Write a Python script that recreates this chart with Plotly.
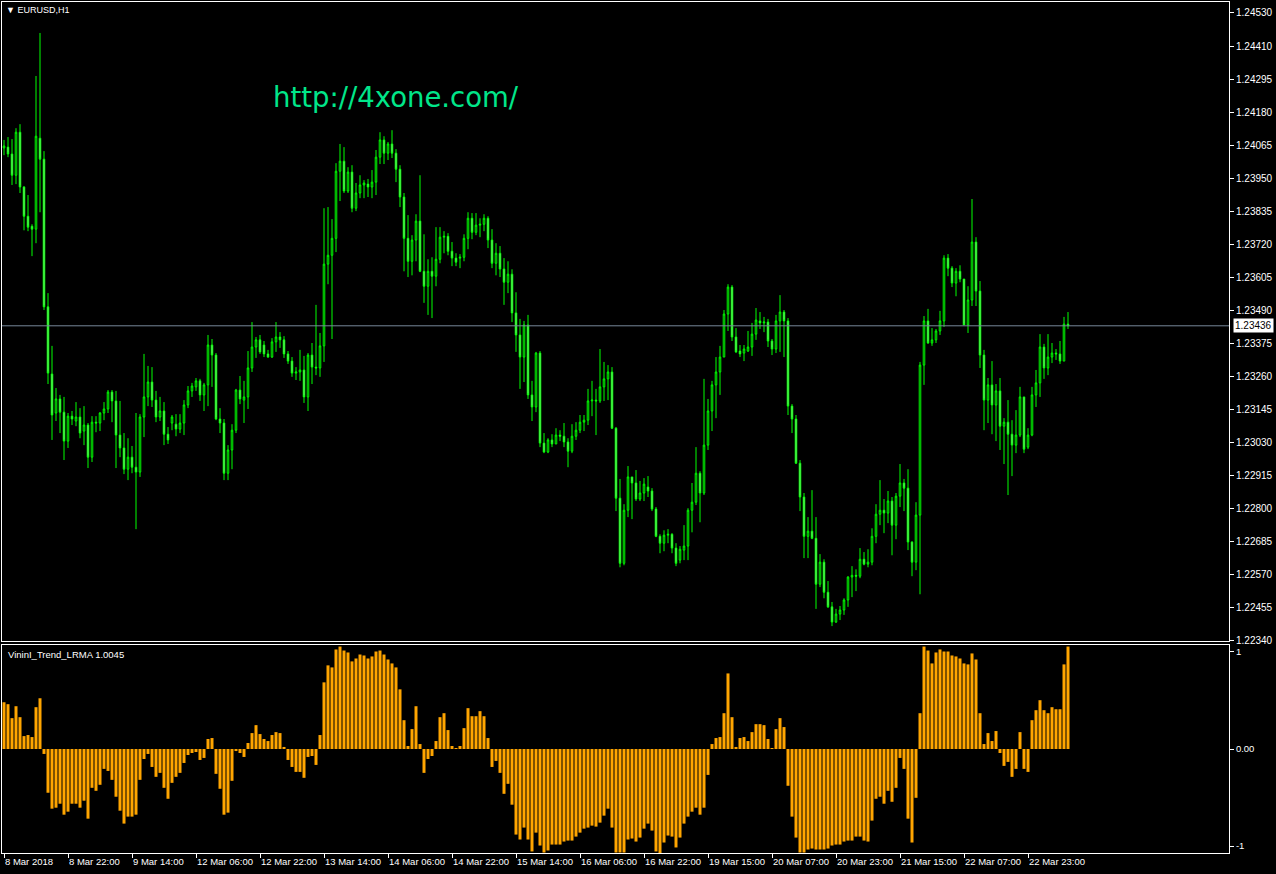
import plotly.graph_objects as go

W, H = 1276, 874

# ---------------- data (EURUSD H1) ----------------
open_ = [1.24056, 1.24059, 1.24035, 1.23961, 1.24111, 1.23920, 1.23818, 1.23783, 1.23773, 1.24090,
1.24017, 1.23502, 1.23268, 1.23132, 1.23181, 1.23135, 1.23034, 1.23121, 1.23104, 1.23118,
1.23069, 1.23090, 1.22978, 1.23100, 1.23097, 1.23132, 1.23146, 1.23205, 1.23174, 1.23055,
1.23010, 1.22936, 1.22978, 1.22943, 1.22926, 1.23118, 1.23188, 1.23240, 1.23177, 1.23118,
1.23139, 1.23058, 1.23097, 1.23093, 1.23076, 1.23097, 1.23160, 1.23209, 1.23223, 1.23244,
1.23195, 1.23230, 1.23369, 1.23334, 1.23111, 1.23097, 1.22922, 1.23003, 1.23072, 1.23212,
1.23177, 1.23188, 1.23289, 1.23362, 1.23387, 1.23369, 1.23338, 1.23327, 1.23380, 1.23397,
1.23387, 1.23338, 1.23313, 1.23271, 1.23275, 1.23282, 1.23188, 1.23334, 1.23292, 1.23289,
1.23366, 1.23651, 1.23682, 1.23741, 1.23975, 1.24010, 1.23906, 1.23972, 1.23846, 1.23899,
1.23927, 1.23930, 1.23920, 1.23937, 1.24024, 1.24084, 1.24038, 1.24070, 1.24038, 1.23982,
1.23885, 1.23741, 1.23661, 1.23735, 1.23801, 1.23626, 1.23574, 1.23626, 1.23609, 1.23668,
1.23745, 1.23748, 1.23696, 1.23672, 1.23672, 1.23675, 1.23741, 1.23811, 1.23762, 1.23787,
1.23790, 1.23811, 1.23735, 1.23654, 1.23689, 1.23634, 1.23588, 1.23616, 1.23481, 1.23404,
1.23327, 1.23439, 1.23195, 1.23153, 1.23341, 1.23027, 1.22996, 1.23038, 1.23024, 1.23055,
1.23051, 1.23031, 1.22999, 1.23051, 1.23072, 1.23100, 1.23107, 1.23174, 1.23177, 1.23174,
1.23223, 1.23251, 1.23275, 1.23079, 1.22835, 1.22608, 1.22793, 1.22909, 1.22888, 1.22832,
1.22853, 1.22874, 1.22860, 1.22797, 1.22702, 1.22678, 1.22706, 1.22709, 1.22661, 1.22619,
1.22654, 1.22668, 1.22793, 1.22821, 1.22922, 1.22853, 1.23020, 1.23139, 1.23230, 1.23275,
1.23327, 1.23477, 1.23571, 1.23397, 1.23348, 1.23341, 1.23348, 1.23362, 1.23407, 1.23453,
1.23446, 1.23449, 1.23383, 1.23355, 1.23453, 1.23484, 1.23453, 1.23156, 1.23111, 1.22957,
1.22839, 1.22702, 1.22720, 1.22695, 1.22535, 1.22612, 1.22507, 1.22456, 1.22403, 1.22431,
1.22445, 1.22480, 1.22560, 1.22566, 1.22563, 1.22622, 1.22605, 1.22612, 1.22702, 1.22779,
1.22793, 1.22783, 1.22825, 1.22741, 1.22842, 1.22888, 1.22870, 1.22682, 1.22612, 1.22776,
1.23299, 1.23453, 1.23376, 1.23387, 1.23418, 1.23453, 1.23672, 1.23637, 1.23585, 1.23626,
1.23599, 1.23439, 1.23526, 1.23728, 1.23557, 1.23334, 1.23177, 1.23230, 1.23160, 1.23209,
1.23086, 1.23100, 1.23058, 1.23020, 1.23055, 1.23188, 1.23013, 1.23055, 1.23195, 1.23237,
1.23362, 1.23289, 1.23327, 1.23341, 1.23338, 1.23313, 1.23442]

high = [1.24084, 1.24094, 1.24087, 1.24125, 1.24139, 1.23923, 1.23892, 1.23790, 1.24307, 1.24457,
1.24045, 1.23550, 1.23366, 1.23219, 1.23195, 1.23188, 1.23132, 1.23139, 1.23170, 1.23149,
1.23156, 1.23097, 1.23121, 1.23121, 1.23135, 1.23170, 1.23212, 1.23212, 1.23209, 1.23174,
1.23062, 1.23044, 1.23017, 1.23132, 1.23128, 1.23338, 1.23296, 1.23292, 1.23209, 1.23188,
1.23170, 1.23083, 1.23125, 1.23128, 1.23128, 1.23177, 1.23226, 1.23237, 1.23254, 1.23251,
1.23237, 1.23404, 1.23390, 1.23341, 1.23149, 1.23111, 1.23020, 1.23093, 1.23216, 1.23261,
1.23244, 1.23348, 1.23449, 1.23397, 1.23404, 1.23383, 1.23352, 1.23393, 1.23449, 1.23414,
1.23400, 1.23348, 1.23327, 1.23292, 1.23352, 1.23331, 1.23341, 1.23376, 1.23509, 1.23411,
1.23846, 1.23850, 1.23808, 1.24003, 1.24070, 1.24059, 1.23989, 1.23996, 1.23934, 1.23961,
1.23944, 1.23948, 1.23979, 1.24049, 1.24111, 1.24097, 1.24077, 1.24118, 1.24052, 1.23996,
1.23899, 1.23822, 1.23752, 1.23825, 1.23961, 1.23755, 1.23668, 1.23675, 1.23780, 1.23780,
1.23766, 1.23759, 1.23728, 1.23689, 1.23686, 1.23755, 1.23832, 1.23829, 1.23829, 1.23811,
1.23825, 1.23818, 1.23773, 1.23724, 1.23714, 1.23672, 1.23661, 1.23633, 1.23553, 1.23460,
1.23453, 1.23474, 1.23244, 1.23345, 1.23348, 1.23062, 1.23044, 1.23058, 1.23079, 1.23072,
1.23097, 1.23044, 1.23093, 1.23100, 1.23125, 1.23125, 1.23216, 1.23244, 1.23216, 1.23355,
1.23310, 1.23299, 1.23292, 1.23083, 1.22902, 1.22814, 1.22947, 1.22909, 1.22933, 1.22895,
1.22905, 1.22912, 1.22870, 1.22804, 1.22709, 1.22723, 1.22727, 1.22713, 1.22678, 1.22668,
1.22741, 1.22800, 1.22888, 1.23013, 1.22929, 1.23251, 1.23181, 1.23244, 1.23327, 1.23366,
1.23491, 1.23581, 1.23578, 1.23428, 1.23369, 1.23369, 1.23418, 1.23446, 1.23498, 1.23484,
1.23467, 1.23460, 1.23390, 1.23474, 1.23543, 1.23491, 1.23463, 1.23163, 1.23125, 1.22968,
1.22853, 1.22769, 1.22863, 1.22769, 1.22640, 1.22622, 1.22546, 1.22473, 1.22449, 1.22459,
1.22486, 1.22563, 1.22598, 1.22587, 1.22661, 1.22647, 1.22657, 1.22730, 1.22814, 1.22898,
1.22832, 1.22860, 1.22839, 1.22853, 1.22954, 1.22902, 1.22936, 1.22685, 1.22821, 1.23310,
1.23470, 1.23495, 1.23428, 1.23425, 1.23488, 1.23682, 1.23686, 1.23644, 1.23637, 1.23647,
1.23599, 1.23574, 1.23878, 1.23745, 1.23592, 1.23352, 1.23254, 1.23313, 1.23233, 1.23254,
1.23114, 1.23177, 1.23107, 1.23142, 1.23223, 1.23188, 1.23079, 1.23223, 1.23282, 1.23407,
1.23373, 1.23407, 1.23376, 1.23355, 1.23383, 1.23467, 1.23484]

low = [1.24031, 1.24024, 1.23927, 1.23930, 1.23899, 1.23769, 1.23766, 1.23679, 1.23724, 1.23832,
1.23491, 1.23233, 1.23038, 1.23104, 1.23062, 1.22968, 1.23010, 1.23090, 1.23086, 1.23044,
1.23020, 1.22940, 1.22961, 1.23065, 1.23069, 1.23107, 1.23132, 1.23100, 1.22940, 1.22978,
1.22919, 1.22898, 1.22922, 1.22727, 1.22909, 1.23048, 1.23156, 1.23153, 1.23100, 1.23104,
1.23020, 1.23024, 1.23072, 1.23051, 1.23062, 1.23055, 1.23149, 1.23188, 1.23209, 1.23174,
1.23139, 1.23156, 1.23223, 1.23107, 1.23062, 1.22898, 1.22898, 1.22936, 1.23062, 1.23163,
1.23097, 1.23146, 1.23275, 1.23324, 1.23338, 1.23327, 1.23324, 1.23324, 1.23345, 1.23359,
1.23324, 1.23303, 1.23258, 1.23247, 1.23244, 1.23167, 1.23139, 1.23233, 1.23264, 1.23258,
1.23310, 1.23581, 1.23390, 1.23693, 1.23871, 1.23899, 1.23899, 1.23832, 1.23836, 1.23881,
1.23881, 1.23885, 1.23881, 1.23892, 1.24000, 1.24000, 1.24014, 1.24021, 1.23937, 1.23850,
1.23626, 1.23606, 1.23612, 1.23661, 1.23623, 1.23516, 1.23474, 1.23463, 1.23574, 1.23654,
1.23689, 1.23682, 1.23644, 1.23644, 1.23637, 1.23661, 1.23703, 1.23738, 1.23752, 1.23745,
1.23766, 1.23707, 1.23637, 1.23612, 1.23606, 1.23509, 1.23550, 1.23449, 1.23345, 1.23216,
1.23240, 1.23181, 1.23104, 1.23135, 1.23013, 1.22992, 1.22992, 1.23013, 1.23024, 1.23034,
1.23013, 1.22943, 1.22992, 1.23038, 1.23062, 1.23069, 1.23090, 1.23121, 1.23055, 1.23167,
1.23174, 1.23177, 1.23076, 1.22790, 1.22594, 1.22601, 1.22769, 1.22762, 1.22825, 1.22825,
1.22825, 1.22839, 1.22790, 1.22699, 1.22643, 1.22650, 1.22678, 1.22643, 1.22598, 1.22608,
1.22619, 1.22619, 1.22716, 1.22811, 1.22751, 1.22846, 1.23003, 1.23069, 1.23114, 1.23195,
1.23327, 1.23418, 1.23383, 1.23341, 1.23327, 1.23313, 1.23345, 1.23331, 1.23387, 1.23425,
1.23414, 1.23362, 1.23334, 1.23341, 1.23345, 1.23327, 1.23125, 1.23062, 1.22954, 1.22790,
1.22626, 1.22626, 1.22692, 1.22449, 1.22525, 1.22486, 1.22452, 1.22389, 1.22400, 1.22410,
1.22428, 1.22456, 1.22490, 1.22511, 1.22556, 1.22601, 1.22594, 1.22601, 1.22678, 1.22741,
1.22713, 1.22748, 1.22636, 1.22692, 1.22804, 1.22790, 1.22654, 1.22563, 1.22584, 1.22500,
1.23230, 1.23373, 1.23366, 1.23376, 1.23404, 1.23432, 1.23609, 1.23571, 1.23539, 1.23588,
1.23439, 1.23411, 1.23505, 1.23505, 1.23289, 1.23072, 1.23097, 1.23058, 1.23034, 1.23003,
1.22954, 1.22846, 1.22912, 1.22992, 1.23048, 1.22992, 1.23006, 1.23051, 1.23153, 1.23188,
1.23251, 1.23264, 1.23306, 1.23317, 1.23303, 1.23313, 1.23425]

close = [1.24063, 1.24035, 1.23961, 1.24111, 1.23920, 1.23818, 1.23780, 1.23773, 1.24097, 1.24017,
1.23502, 1.23271, 1.23125, 1.23181, 1.23135, 1.23034, 1.23121, 1.23111, 1.23118, 1.23062,
1.23090, 1.22978, 1.23100, 1.23097, 1.23132, 1.23146, 1.23205, 1.23174, 1.23055, 1.23010,
1.22936, 1.22978, 1.22943, 1.22926, 1.23118, 1.23188, 1.23240, 1.23177, 1.23118, 1.23139,
1.23058, 1.23038, 1.23118, 1.23076, 1.23097, 1.23160, 1.23209, 1.23226, 1.23244, 1.23195,
1.23230, 1.23369, 1.23334, 1.23111, 1.23097, 1.22922, 1.23003, 1.23072, 1.23212, 1.23181,
1.23188, 1.23289, 1.23362, 1.23387, 1.23345, 1.23338, 1.23327, 1.23380, 1.23397, 1.23387,
1.23338, 1.23313, 1.23271, 1.23275, 1.23282, 1.23188, 1.23334, 1.23292, 1.23289, 1.23366,
1.23651, 1.23682, 1.23741, 1.23975, 1.24010, 1.23906, 1.23972, 1.23846, 1.23899, 1.23927,
1.23934, 1.23920, 1.23937, 1.24024, 1.24084, 1.24038, 1.24070, 1.24038, 1.23982, 1.23885,
1.23741, 1.23661, 1.23735, 1.23801, 1.23626, 1.23574, 1.23626, 1.23609, 1.23668, 1.23745,
1.23748, 1.23696, 1.23672, 1.23658, 1.23675, 1.23741, 1.23811, 1.23762, 1.23787, 1.23790,
1.23811, 1.23735, 1.23654, 1.23689, 1.23634, 1.23588, 1.23616, 1.23481, 1.23404, 1.23327,
1.23439, 1.23195, 1.23153, 1.23341, 1.23027, 1.22996, 1.23038, 1.23024, 1.23055, 1.23051,
1.23031, 1.22999, 1.23051, 1.23072, 1.23100, 1.23107, 1.23174, 1.23177, 1.23174, 1.23223,
1.23251, 1.23275, 1.23079, 1.22835, 1.22608, 1.22793, 1.22909, 1.22888, 1.22832, 1.22853,
1.22884, 1.22860, 1.22797, 1.22702, 1.22678, 1.22706, 1.22709, 1.22661, 1.22608, 1.22657,
1.22668, 1.22793, 1.22821, 1.22922, 1.22853, 1.23020, 1.23139, 1.23230, 1.23275, 1.23327,
1.23477, 1.23571, 1.23397, 1.23345, 1.23338, 1.23355, 1.23362, 1.23407, 1.23456, 1.23446,
1.23449, 1.23383, 1.23355, 1.23453, 1.23484, 1.23453, 1.23156, 1.23111, 1.22957, 1.22839,
1.22702, 1.22720, 1.22695, 1.22535, 1.22612, 1.22507, 1.22456, 1.22403, 1.22431, 1.22445,
1.22480, 1.22560, 1.22566, 1.22563, 1.22622, 1.22605, 1.22612, 1.22702, 1.22779, 1.22793,
1.22783, 1.22825, 1.22741, 1.22842, 1.22888, 1.22870, 1.22682, 1.22612, 1.22776, 1.23299,
1.23453, 1.23376, 1.23387, 1.23418, 1.23453, 1.23672, 1.23637, 1.23585, 1.23626, 1.23599,
1.23439, 1.23526, 1.23728, 1.23557, 1.23334, 1.23177, 1.23230, 1.23160, 1.23209, 1.23086,
1.23100, 1.23058, 1.23020, 1.23055, 1.23188, 1.23006, 1.23055, 1.23195, 1.23237, 1.23362,
1.23289, 1.23327, 1.23341, 1.23338, 1.23313, 1.23442, 1.23436]

trend = [0.482, 0.462, 0.318, 0.441, 0.328, 0.133, 0.144, 0.123, 0.431, 0.523,
-0.051, -0.451, -0.615, -0.605, -0.564, -0.677, -0.646, -0.564, -0.564, -0.605,
-0.533, -0.718, -0.400, -0.431, -0.369, -0.205, -0.226, -0.318, -0.492, -0.636,
-0.769, -0.697, -0.697, -0.677, -0.318, -0.103, -0.051, -0.185, -0.287, -0.246,
-0.400, -0.513, -0.349, -0.287, -0.246, -0.144, -0.062, -0.041, -0.031, -0.113,
-0.092, 0.103, 0.113, -0.256, -0.410, -0.677, -0.656, -0.328, -0.021, -0.041,
-0.082, 0.062, 0.164, 0.246, 0.154, 0.103, 0.082, 0.144, 0.174, 0.164,
0.021, -0.113, -0.185, -0.236, -0.236, -0.297, -0.082, -0.072, -0.164, 0.144,
0.687, 0.862, 0.841, 1.026, 1.056, 1.015, 0.995, 0.903, 0.933,
0.974, 0.964, 0.933, 0.954, 1.005, 1.015, 0.974, 0.923, 0.882, 0.841,
0.615, 0.297, 0.031, 0.205, 0.441, 0.051, -0.246, -0.103, -0.072, 0.082,
0.328, 0.369, 0.195, 0.031, 0.010, 0.031, 0.215, 0.421, 0.338, 0.338,
0.390, 0.338, 0.113, -0.185, -0.123, -0.246, -0.462, -0.359, -0.574, -0.882,
-0.933, -0.810, -0.933, -1.056, -0.862, -0.995, -1.067, -1.046, -0.985, -0.985,
-0.985, -0.954, -0.944, -0.944, -0.903, -0.862, -0.821, -0.810, -0.790, -0.800,
-0.759, -0.687, -0.615, -0.810, -1.067, -1.067, -1.067, -0.933, -0.923, -0.954,
-0.913, -0.821, -0.769, -0.841, -1.056, -1.077, -0.964, -0.892, -0.903, -1.015,
-0.913, -0.769, -0.697, -0.646, -0.605, -0.677, -0.605, -0.267, 0.051, 0.113,
0.123, 0.369, 0.779, 0.328, 0.021, 0.113, 0.123, 0.082, 0.174, 0.256,
0.256, 0.246, 0.103, 0.010, 0.205, 0.318, 0.226, -0.379, -0.697, -0.913,
-1.067, -1.067, -1.036, -1.026, -1.036, -1.036, -1.036, -1.026, -0.995, -0.985,
-0.985, -0.954, -0.944, -0.944, -0.903, -0.903, -0.944, -0.954, -0.738, -0.513,
-0.492, -0.564, -0.431, -0.544, -0.400, -0.092, -0.205, -0.718, -0.964, -0.503,
0.369, 1.056, 1.015, 0.882, 0.995, 1.026, 1.005, 1.005, 0.964, 0.954,
0.933, 0.882, 0.872, 0.985, 0.923, 0.369, 0.051, 0.164, 0.082, 0.185,
-0.041, -0.174, -0.133, -0.287, -0.205, 0.174, -0.205, -0.236, 0.297, 0.400,
0.503, 0.400, 0.369, 0.431, 0.410, 0.410, 0.872, 1.056]

date_labels = ["8 Mar 2018", "8 Mar 22:00", "9 Mar 14:00", "12 Mar 06:00", "12 Mar 22:00",
               "13 Mar 14:00", "14 Mar 06:00", "14 Mar 22:00", "15 Mar 14:00", "16 Mar 06:00",
               "16 Mar 22:00", "19 Mar 15:00", "20 Mar 07:00", "20 Mar 23:00", "21 Mar 15:00",
               "22 Mar 07:00", "22 Mar 23:00"]
date_label_bars = [0, 16, 32, 48, 64, 80, 96, 112, 128, 144, 160, 176, 192, 208, 224, 240, 256]

price_ticks = [1.24530, 1.24410, 1.24295, 1.24180, 1.24065, 1.23950, 1.23835, 1.23720, 1.23605,
               1.23490, 1.23375, 1.23260, 1.23145, 1.23030, 1.22915, 1.22800, 1.22685, 1.22570,
               1.22455, 1.22340]
last_price = 1.23436
symbol_title = "EURUSD,H1"
indicator_name = "VininI_Trend_LRMA 1.0045"
watermark = "http://4xone.com/"

# ---------------- figure ----------------
bars = list(range(len(close)))
GREEN = "#00FF00"
FONT = "Liberation Sans"

fig = go.Figure()
fig.add_trace(go.Candlestick(
    x=bars, open=open_, high=high, low=low, close=close,
    increasing=dict(line=dict(color=GREEN, width=1), fillcolor="#000000"),
    decreasing=dict(line=dict(color=GREEN, width=1), fillcolor="#FFFFFF"),
    whiskerwidth=0, xaxis="x", yaxis="y", showlegend=False, hoverinfo="skip"))

fig.add_trace(go.Bar(
    x=bars, y=trend, width=0.75, marker=dict(color="#FFA500", line=dict(width=0)),
    xaxis="x2", yaxis="y2", showlegend=False, hoverinfo="skip"))

xdom = [2 / W, 1229 / W]
xrange_ = [-0.5, 306.25]
axis_common = dict(showgrid=False, zeroline=False, showline=True, linecolor="white",
                   linewidth=1, mirror=True, automargin=False)

fig.update_layout(
    width=W, height=H, margin=dict(l=0, r=0, t=0, b=0, autoexpand=False),
    paper_bgcolor="#000000", plot_bgcolor="#000000", showlegend=False,
    boxgap=0.45,
    xaxis=dict(domain=xdom, range=xrange_, anchor="y", showticklabels=False, ticks="",
               rangeslider=dict(visible=False), **axis_common),
    yaxis=dict(domain=[1 - 641 / H, 1 - 2 / H], range=[1.22337, 1.24565], anchor="x",
               side="right", ticks="outside", ticklen=4, tickcolor="white",
               tickvals=price_ticks, ticktext=[f"{v:.5f}" for v in price_ticks],
               tickfont=dict(color="white", size=10, family=FONT), **axis_common),
    xaxis2=dict(domain=xdom, range=xrange_, anchor="y2", ticks="outside", ticklen=4,
                tickcolor="white", tickvals=date_label_bars, ticktext=date_labels,
                ticklabelposition="outside right", tickangle=0,
                tickfont=dict(color="white", size=9.5, family=FONT), **axis_common),
    yaxis2=dict(domain=[1 - 853 / H, 1 - 645 / H], range=[-1.072, 1.072], anchor="x2",
                side="right", ticks="outside", ticklen=4, tickcolor="white",
                tickvals=[1, 0, -1], ticktext=["1", "0.00", "-1"],
                tickfont=dict(color="white", size=9.5, family=FONT), **axis_common),
)

# last price line and label
fig.add_shape(type="line", xref="paper", yref="y", x0=2 / W, x1=1229 / W,
              y0=last_price, y1=last_price, line=dict(color="#778899", width=1))
fig.add_annotation(xref="paper", yref="y", x=1233 / W, y=last_price, xanchor="left",
                   yanchor="middle", text=f"{last_price:.5f}", showarrow=False,
                   bgcolor="white", borderpad=1,
                   font=dict(color="black", size=10, family=FONT))

# titles
fig.add_annotation(xref="paper", yref="paper", x=4 / W, y=1 - 10 / H, xanchor="left",
                   yanchor="middle", text="▼ " + symbol_title, showarrow=False,
                   font=dict(color="white", size=9, family=FONT))
fig.add_annotation(xref="paper", yref="paper", x=6 / W, y=1 - 654 / H, xanchor="left",
                   yanchor="middle", text=indicator_name, showarrow=False,
                   font=dict(color="white", size=9.5, family=FONT))
fig.add_annotation(xref="paper", yref="paper", x=271 / W, y=1 - 97 / H, xanchor="left",
                   yanchor="middle", text=watermark, showarrow=False,
                   font=dict(color="#00E68A", size=27.5, family="DejaVu Sans"))

fig.write_html("out.html",
               config={"displayModeBar": False},
               post_script="document.body.style.margin='0px';"
                           "document.body.style.overflow='hidden';")
